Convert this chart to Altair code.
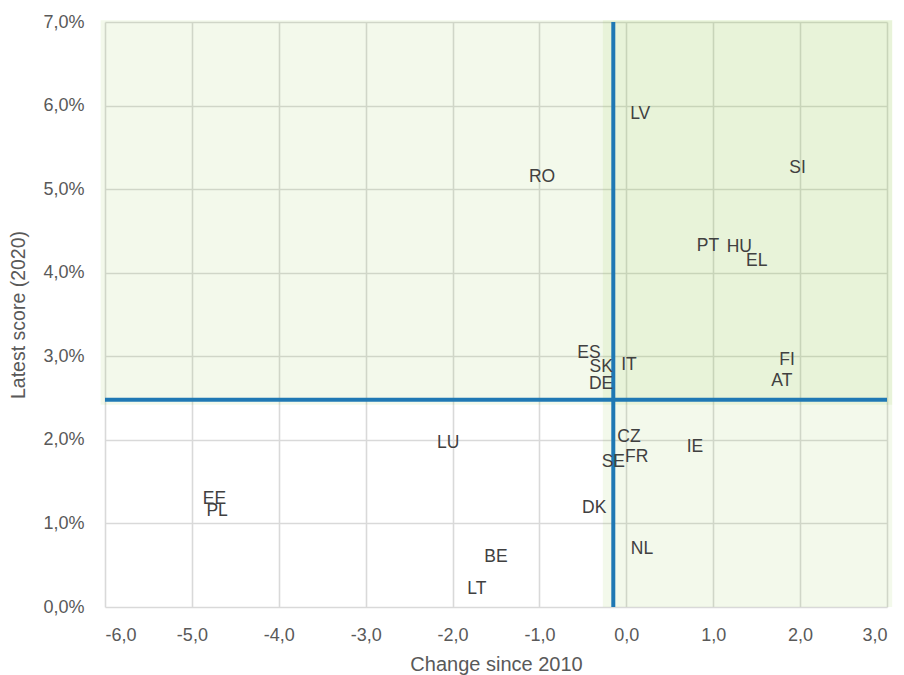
import altair as alt
import pandas as pd

countries = ["LV", "RO", "SI", "PT", "HU", "EL", "ES", "SK", "IT", "DE", "FI", "AT",
             "CZ", "IE", "FR", "SE", "LU", "DK", "EE", "PL", "NL", "BE", "LT"]
change = [0.16, -0.97, 1.97, 0.94, 1.30, 1.50, -0.43, -0.29, 0.03, -0.29, 1.85, 1.79,
          0.03, 0.79, 0.12, -0.15, -2.05, -0.37, -4.74, -4.71, 0.18, -1.50, -1.72]
score = [5.90, 5.14, 5.25, 4.32, 4.31, 4.14, 3.04, 2.87, 2.90, 2.67, 2.95, 2.71,
         2.04, 1.91, 1.80, 1.73, 1.96, 1.19, 1.29, 1.15, 0.69, 0.60, 0.22]

threshold_x = -0.15
threshold_y = 2.48

df = pd.DataFrame({"country": countries, "change": change, "score": score})

xscale = alt.Scale(domain=[-6, 3], nice=False, zero=False)
yscale = alt.Scale(domain=[0, 7], nice=False, zero=False)

regions = pd.DataFrame({
    "x1": [-6.05, -0.27],
    "x2": [3.06, 3.06],
    "y1": [2.42, 0.0],
    "y2": [7.02, 7.02],
})

FONT = "Liberation Sans"

shade = alt.Chart(regions).mark_rect(color="#8CC63F", opacity=0.1, clip=False).encode(
    x=alt.X("x1:Q", scale=xscale,
            axis=alt.Axis(title="Change since 2010", values=list(range(-6, 4)),
                          labelExpr="replace(replace(format(datum.value, '.1f'), '.', ','), '\u2212', '-')",
                          grid=True, gridColor="#d9d9d9", gridWidth=1.6,
                          domain=False, ticks=False, labelPadding=19,
                          labelFontSize=18, labelColor="#595959", labelFont=FONT,
                          titleFontSize=20, titleColor="#595959", titleFont=FONT,
                          titleFontWeight="normal", titlePadding=10)),
    x2="x2:Q",
    y=alt.Y("y1:Q", scale=yscale,
            axis=alt.Axis(title="Latest score (2020)", values=list(range(0, 8)),
                          labelExpr="replace(format(datum.value, '.1f'), '.', ',') + '%'",
                          grid=True, gridColor="#d9d9d9", gridWidth=1.6,
                          domain=False, ticks=False, labelPadding=21,
                          labelFontSize=18, labelColor="#595959", labelFont=FONT,
                          titleFontSize=19.5, titleColor="#595959", titleFont=FONT,
                          titleFontWeight="normal", titlePadding=14)),
    y2="y2:Q",
)

vline = alt.Chart(pd.DataFrame({"x": [threshold_x], "y1": [0.0], "y2": [7.0]})).mark_rule(
    color="#1F78B4", strokeWidth=4).encode(
    x=alt.X("x:Q", scale=xscale), y=alt.Y("y1:Q", scale=yscale), y2="y2:Q")

hline = alt.Chart(pd.DataFrame({"y": [threshold_y], "x1": [-6.0], "x2": [3.0]})).mark_rule(
    color="#1F78B4", strokeWidth=4).encode(
    y=alt.Y("y:Q", scale=yscale), x=alt.X("x1:Q", scale=xscale), x2="x2:Q")

labels = alt.Chart(df).mark_text(fontSize=17.5, color="#404040", font=FONT,
                                 align="center", baseline="middle").encode(
    x=alt.X("change:Q", scale=xscale),
    y=alt.Y("score:Q", scale=yscale),
    text="country:N",
)

chart = alt.layer(shade, vline, hline, labels).properties(
    width=782, height=585,
    autosize=alt.AutoSizeParams(type="none"),
    padding={"left": 97, "top": 14, "right": 9, "bottom": 68},
).configure_view(stroke=None)

chart.save("out.html", embed_options={"renderer": "svg", "actions": False})
